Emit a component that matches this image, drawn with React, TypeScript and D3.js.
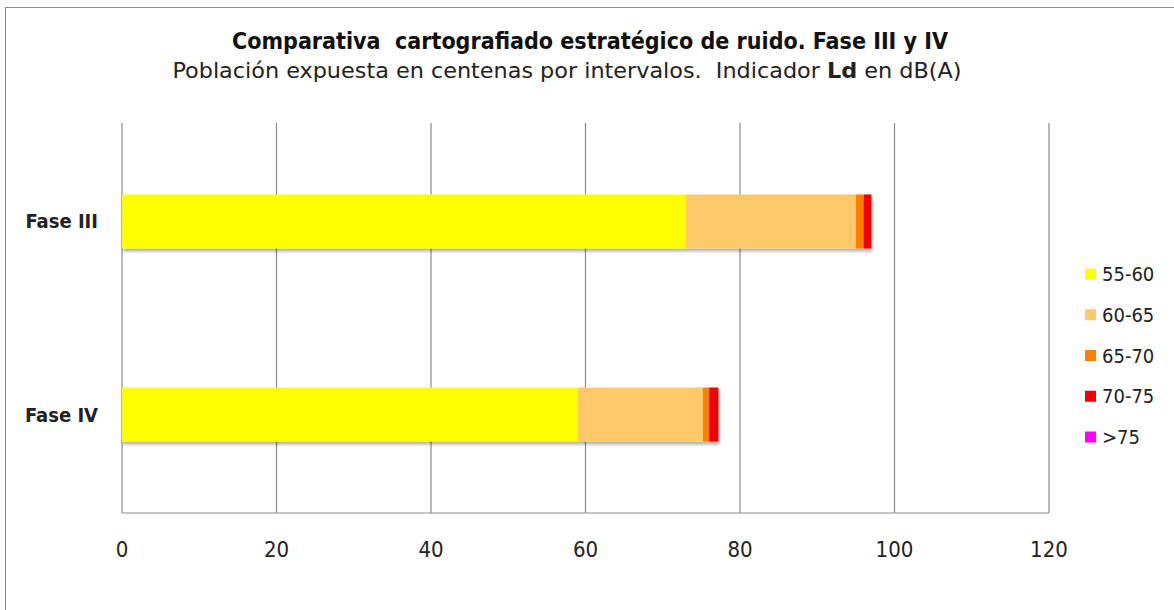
import * as d3 from "d3";

const categories = ["Fase III", "Fase IV"];
const seriesNames = ["55-60", "60-65", "65-70", "70-75", ">75"];
const seriesColors = ["#FFFF00", "#FFC86A", "#FF7F00", "#F00000", "#FF00FF"];
const values5560 = [73, 59];
const values6065 = [22, 16.2];
const values6570 = [1, 0.8];
const values7075 = [1, 1.2];
const values75 = [0, 0];
const xTicks = [0, 20, 40, 60, 80, 100, 120];

const W = 1174;
const H = 610;
const font = "'Liberation Sans Narrow', 'DejaVu Sans Condensed', sans-serif";

export default function App() {
  const rows = categories.map((c, i) => ({
    cat: c,
    "55-60": values5560[i],
    "60-65": values6065[i],
    "65-70": values6570[i],
    "70-75": values7075[i],
    ">75": values75[i],
  }));
  const stacked = d3.stack<any>().keys(seriesNames)(rows);

  const x = d3.scaleLinear().domain([0, 120]).range([122, 1049]);
  const y = d3
    .scaleBand()
    .domain(categories)
    .range([123, 513])
    .paddingInner(0.72)
    .paddingOuter(0.37);
  const color = d3.scaleOrdinal<string, string>().domain(seriesNames).range(seriesColors);
  const legendY = d3.scalePoint().domain(seriesNames).range([274, 437]);

  return (
    <svg width={W} height={H} style={{ position: "absolute", left: 0, top: 0 }}>
      <defs>
        <filter id="shadow" x="-5%" y="-20%" width="110%" height="150%">
          <feDropShadow dx="1" dy="3" stdDeviation="1.5" floodColor="#000" floodOpacity="0.3" />
        </filter>
      </defs>
      <rect x={0} y={0} width={W} height={H} fill="#fff" />
      <rect x={5.5} y={7.5} width={W + 20} height={H + 20} fill="#fff" stroke="#8c8c8c" strokeWidth={1} />

      <text x={590} y={49} textAnchor="middle" fontFamily={font} fontWeight="bold" fontSize={23} fill="#111" textLength={716} lengthAdjust="spacingAndGlyphs" style={{ whiteSpace: "pre" }}>
        {"Comparativa  cartografiado estratégico de ruido. Fase III y IV"}
      </text>
      <text x={567} y={78} textAnchor="middle" fontFamily={font} fontSize={22} fill="#222" textLength={789} lengthAdjust="spacingAndGlyphs" style={{ whiteSpace: "pre" }}>
        {"Población expuesta en centenas por intervalos.  Indicador "}
        <tspan fontWeight="bold">Ld</tspan>
        {" en dB(A)"}
      </text>

      {/* gridlines */}
      {xTicks.map((t) => (
        <line key={t} x1={x(t)} x2={x(t)} y1={123} y2={513} stroke="#8a8a8a" strokeWidth={1.2} />
      ))}
      <line x1={122} x2={1049} y1={513} y2={513} stroke="#8a8a8a" strokeWidth={1.2} />

      {/* bars */}
      <g filter="url(#shadow)">
        {stacked.map((s) =>
          s.map((d, i) => (
            <rect
              key={s.key + i}
              x={x(d[0])}
              width={Math.max(0, x(d[1]) - x(d[0]))}
              y={y(categories[i])}
              height={y.bandwidth()}
              fill={color(s.key)}
            />
          ))
        )}
      </g>

      {/* tick labels */}
      {xTicks.map((t) => (
        <text key={t} x={x(t)} y={557} textAnchor="middle" fontFamily={font} fontSize={22} fill="#222">
          {t}
        </text>
      ))}

      {/* category labels */}
      {categories.map((c) => (
        <text key={c} x={98} y={(y(c) as number) + y.bandwidth() / 2 + 7} textAnchor="end" fontFamily={font} fontWeight="bold" fontSize={20} fill="#222">
          {c}
        </text>
      ))}

      {/* legend */}
      {seriesNames.map((s) => (
        <g key={s} transform={`translate(1085,${legendY(s)})`}>
          <rect x={0} y={-5.5} width={11} height={11} fill={color(s)} />
          <text x={17} y={7} fontFamily={font} fontSize={20} fill="#222">
            {s}
          </text>
        </g>
      ))}
    </svg>
  );
}
